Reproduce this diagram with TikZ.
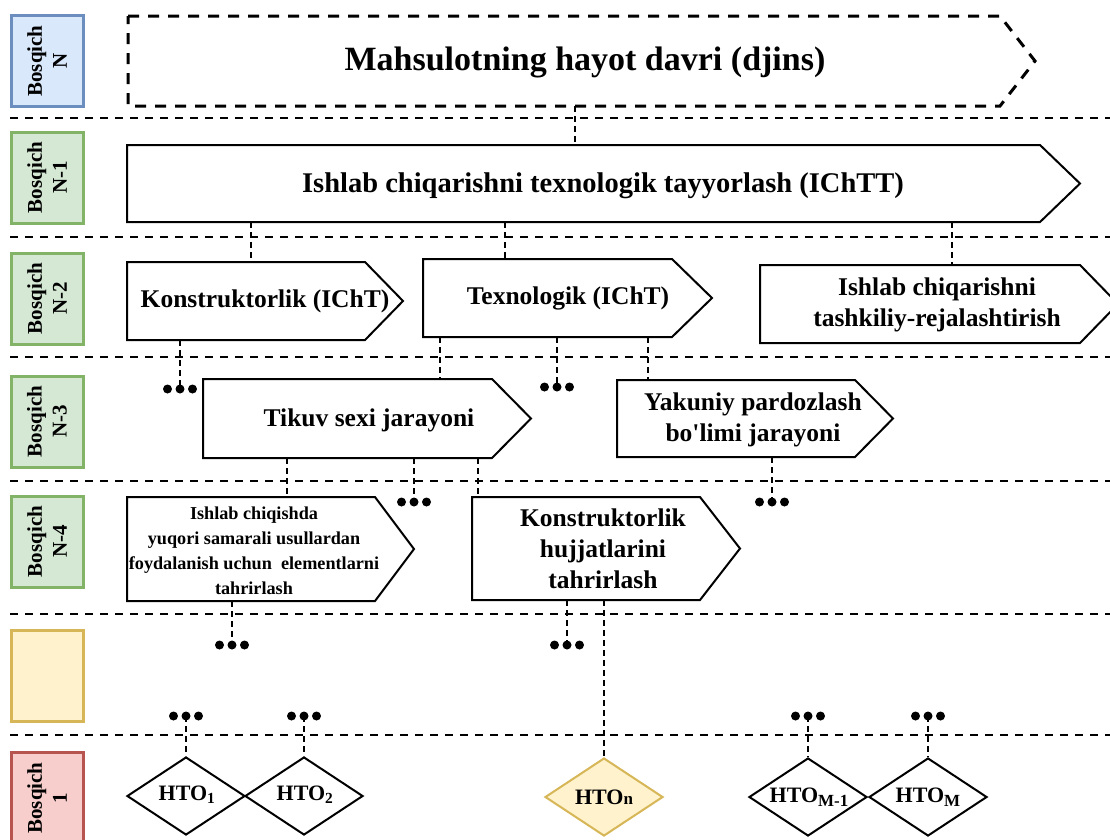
\documentclass[tikz,border=0pt]{standalone}
\usepackage{fontspec}
\setmainfont{Liberation Serif}
\usetikzlibrary{shapes.geometric,fit}
\definecolor{blueF}{HTML}{DAE8FC}
\definecolor{blueD}{HTML}{6C8EBF}
\definecolor{greenF}{HTML}{D5E8D4}
\definecolor{greenD}{HTML}{82B366}
\definecolor{yelF}{HTML}{FFF2CC}
\definecolor{yelD}{HTML}{D6B656}
\definecolor{redF}{HTML}{F8CECC}
\definecolor{redD}{HTML}{B85450}
% #2 name, #3 left, #4 top, #5 body end, #6 bottom, #7 tip
\newcommand{\stagebox}[7][boxline]{%
  \node[fit={(#3,#4) (#5,#6)}, inner sep=0pt] (#2) {};%
  \draw[#1] (#3,#4) -- (#5,#4) -- (#7,{(#4+#6)/2}) -- (#5,#6) -- (#3,#6) -- cycle;%
}
\newcommand{\threedots}[3]{%
  \coordinate (#1) at (#2,#3);%
  \fill ([xshift=-12.5pt]#1) circle[radius=4.5pt] (#1) circle[radius=4.5pt] ([xshift=12.5pt]#1) circle[radius=4.5pt];%
}
\begin{document}
\begin{tikzpicture}[x=1pt,y=-1pt,
  sepline/.style={line width=1.7pt, dash pattern=on 8pt off 7pt},
  conn/.style={line width=1.6pt, dash pattern=on 6pt off 4pt},
  boxline/.style={line width=2pt, line join=miter},
  topbox/.style={line width=3pt, dash pattern=on 11pt off 9pt},
  labbox/.style={line width=3pt, minimum width=72pt, minimum height=91pt, inner sep=0pt},
  labtxt/.style={rotate=90, align=center, inner sep=0pt, font=\bfseries\fontsize{21}{25}\selectfont},
  titletxt/.style={align=center, inner sep=0pt, font=\bfseries\fontsize{34}{40}\selectfont},
  bigtxt/.style={align=center, inner sep=0pt, font=\bfseries\fontsize{25.5}{31}\selectfont},
  midtxt/.style={align=center, inner sep=0pt, font=\bfseries\fontsize{28.5}{34}\selectfont},
  smalltxt/.style={align=center, inner sep=0pt, font=\bfseries\fontsize{18.2}{25}\selectfont},
  htotxt/.style={align=center, inner sep=0pt, font=\bfseries\fontsize{22}{26}\selectfont},
  hto/.style={diamond, draw, line width=2pt, minimum width=118pt, minimum height=78pt, inner sep=0pt},
]
\useasboundingbox (0,0) rectangle (1110,839);

% stage separators
\foreach \yy in {118,237,357,481,614,735} \draw[sepline] (10,\yy) -- (1112,\yy);

% stage labels
\node[labbox, fill=blueF, draw=blueD] (sN) at (47,61) {};
\node[labtxt] at (sN) {Bosqich\\N};
\node[labbox, fill=greenF, draw=greenD] (sN1) at (47,177.5) {};
\node[labtxt] at (sN1) {Bosqich\\N-1};
\node[labbox, fill=greenF, draw=greenD] (sN2) at (47,298.5) {};
\node[labtxt] at (sN2) {Bosqich\\N-2};
\node[labbox, fill=greenF, draw=greenD] (sN3) at (47,421.5) {};
\node[labtxt] at (sN3) {Bosqich\\N-3};
\node[labbox, fill=greenF, draw=greenD] (sN4) at (47,541.5) {};
\node[labtxt] at (sN4) {Bosqich\\N-4};
\node[labbox, fill=yelF, draw=yelD] (sX) at (47,676) {};
\node[labbox, fill=redF, draw=redD] (s1) at (47,798) {};
\node[labtxt] at (s1) {Bosqich\\1};

% stage N
\stagebox[topbox]{life}{128}{16}{1000}{106}{1035}
\node[titletxt] at (585,62) {Mahsulotning hayot davri (djins)};

% stage N-1
\stagebox{ichtt}{127}{145}{1040}{222}{1080}
\node[midtxt] at (603,186) {Ishlab chiqarishni texnologik tayyorlash (IChTT)};

% stage N-2
\stagebox{konst}{127}{262}{365}{340}{403}
\node[bigtxt] at (265,301) {Konstruktorlik (IChT)};
\stagebox{texn}{423}{259}{672}{337}{712}
\node[bigtxt] at (568,298) {Texnologik (IChT)};
\stagebox{tashk}{760}{265}{1080}{343}{1118}
\node[bigtxt] at (937,305) {Ishlab chiqarishni\\tashkiliy-rejalashtirish};

% stage N-3
\stagebox{tikuv}{203}{379}{492}{458}{531}
\node[bigtxt] at (369,420) {Tikuv sexi jarayoni};
\stagebox{yakun}{617}{380}{855}{457}{893}
\node[bigtxt] at (753,420) {Yakuniy pardozlash\\bo\textquotesingle limi jarayoni};

% stage N-4
\stagebox{ichiq}{127}{497}{375}{601}{414}
\node[smalltxt] at (254,551) {Ishlab chiqishda\\yuqori samarali usullardan\\foydalanish uchun\ \ elementlarni\\tahrirlash};
\stagebox{khujj}{472}{497}{700}{600}{740}
\node[bigtxt] at (603,549) {Konstruktorlik\\hujjatlarini\\tahrirlash};

% stage 1
\node[hto] (h1) at (186,796) {};
\node[htotxt] at (187,795) {HTO\textsubscript{1}};
\node[hto] (h2) at (304,796) {};
\node[htotxt] at (305,795) {HTO\textsubscript{2}};
\node[hto, fill=yelF, draw=yelD] (hn) at (604,797) {};
\node[htotxt] at (604,797) {HTO{\fontsize{17}{17}\selectfont n}};
\node[hto] (hm1) at (808,797) {};
\node[htotxt] at (809,797) {HTO\raisebox{-0.35ex}{\fontsize{17}{17}\selectfont M-1}};
\node[hto] (hm) at (928,797) {};
\node[htotxt] at (928,797) {HTO\raisebox{-0.35ex}{\fontsize{17}{17}\selectfont M}};

% dots
\threedots{d1}{180}{389}
\threedots{d2}{557}{387}
\threedots{d3}{414}{502}
\threedots{d4}{772}{502}
\threedots{d5}{232}{645}
\threedots{d6}{567}{645}
\threedots{d7}{186}{716}
\threedots{d8}{304}{716}
\threedots{d9}{808}{716}
\threedots{d10}{928}{716}

% connectors
\draw[conn] (life.south -| 575,0) -- (ichtt.north -| 575,0);
\draw[conn] (ichtt.south -| 251,0) -- (konst.north -| 251,0);
\draw[conn] (ichtt.south -| 505,0) -- (texn.north -| 505,0);
\draw[conn] (ichtt.south -| 952,0) -- (tashk.north -| 952,0);
\draw[conn] (konst.south -| d1) -- (d1);
\draw[conn] (texn.south -| 440,0) -- (tikuv.north -| 440,0);
\draw[conn] (texn.south -| d2) -- (d2);
\draw[conn] (texn.south -| 648,0) -- (yakun.north -| 648,0);
\draw[conn] (tikuv.south -| 287,0) -- (ichiq.north -| 287,0);
\draw[conn] (tikuv.south -| d3) -- (d3);
\draw[conn] (tikuv.south -| 478,0) -- (khujj.north -| 478,0);
\draw[conn] (yakun.south -| d4) -- (d4);
\draw[conn] (ichiq.south -| d5) -- (d5);
\draw[conn] (khujj.south -| d6) -- (d6);
\draw[conn] (khujj.south -| hn) -- (hn.north);
\draw[conn] (d7) -- (h1.north);
\draw[conn] (d8) -- (h2.north);
\draw[conn] (d9) -- (hm1.north);
\draw[conn] (d10) -- (hm.north);
\end{tikzpicture}
\end{document}
